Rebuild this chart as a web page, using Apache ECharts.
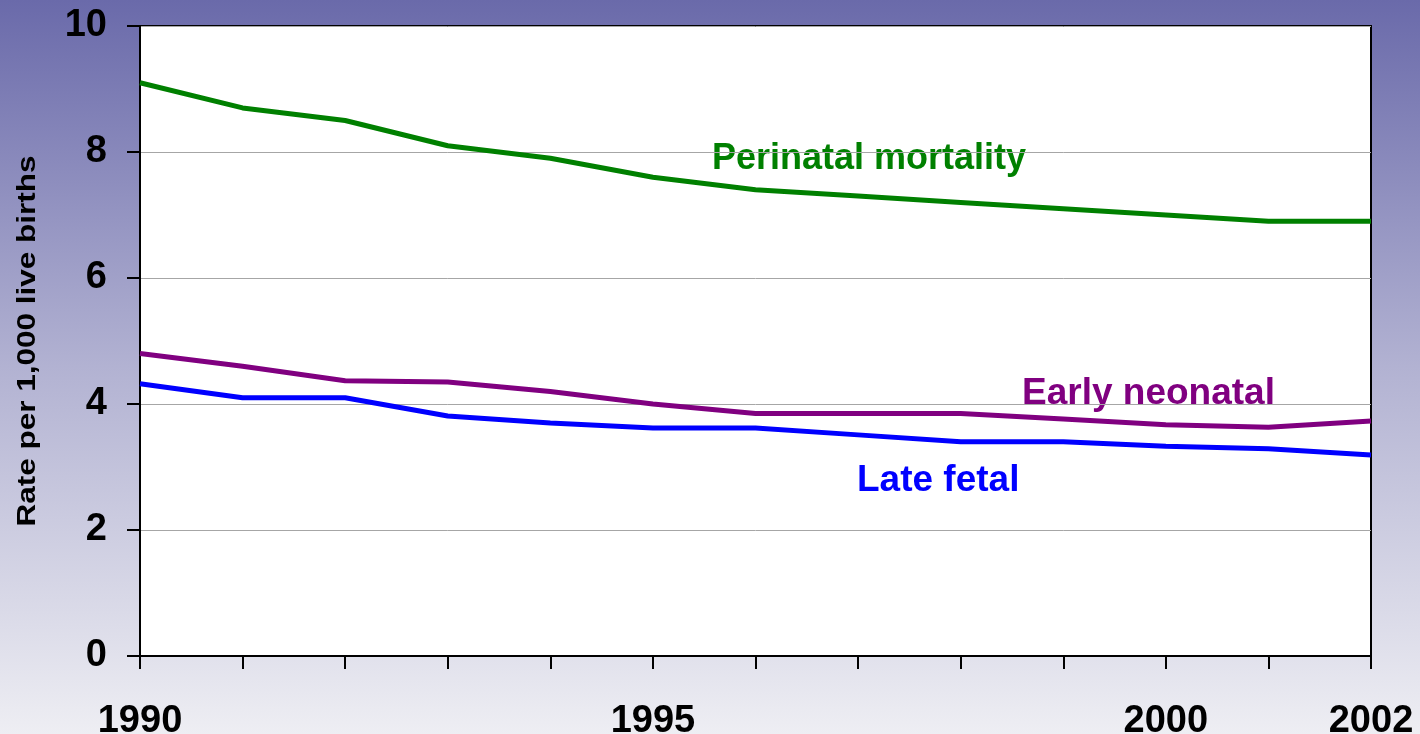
<!DOCTYPE html>
<html>
<head>
<meta charset="utf-8">
<style>
  html, body { margin: 0; padding: 0; }
  #chart { width: 1420px; height: 734px; background: linear-gradient(to bottom, #6a6aaa 0%, #b2b2d2 50%, #eeeef3 100%); }
</style>
<script src="https://cdn.jsdelivr.net/npm/echarts@6/dist/echarts.min.js"></script>
</head>
<body>
<div id="chart"></div>
<script>
const years = ['1990','1991','1992','1993','1994','1995','1996','1997','1998','1999','2000','2001','2002'];
const shownYears = ['1990','1995','2000','2002'];
const perinatal = [9.1, 8.7, 8.5, 8.1, 7.9, 7.6, 7.4, 7.3, 7.2, 7.1, 7.0, 6.9, 6.9];
const earlyNeonatal = [4.8, 4.6, 4.37, 4.35, 4.2, 4.0, 3.85, 3.85, 3.85, 3.76, 3.67, 3.63, 3.73];
const lateFetal = [4.32, 4.1, 4.1, 3.81, 3.7, 3.62, 3.62, 3.51, 3.4, 3.4, 3.33, 3.29, 3.19];
const yTicks = [0, 2, 4, 6, 8, 10];

const font = '"Liberation Sans", Arial, sans-serif';
const chart = echarts.init(document.getElementById('chart'));
chart.setOption({
  backgroundColor: 'transparent',
  animation: false,
  grid: { left: 140, right: 49, top: 26, bottom: 78, containLabel: false, outerBoundsMode: 'none',
          show: true, backgroundColor: '#ffffff', borderColor: '#000000', borderWidth: 2 },
  xAxis: {
    type: 'category',
    data: years,
    boundaryGap: false,
    axisLine: { lineStyle: { color: '#000', width: 2 } },
    axisTick: { show: true, interval: 0, length: 13, lineStyle: { color: '#000', width: 2 } },
    axisLabel: {
      interval: 0,
      formatter: v => shownYears.includes(v) ? v : '',
      fontFamily: font, fontWeight: 'bold', fontSize: 38, color: '#000', margin: 47
    },
    splitLine: { show: false }
  },
  yAxis: {
    type: 'value',
    min: yTicks[0], max: yTicks[yTicks.length - 1], interval: 2,
    axisLine: { show: true, lineStyle: { color: '#000', width: 2 } },
    axisTick: { show: true, length: 13, lineStyle: { color: '#000', width: 2 } },
    axisLabel: { fontFamily: font, fontWeight: 'bold', fontSize: 38, color: '#000', margin: 33 },
    splitLine: { show: true, lineStyle: { color: '#a6a6a6', width: 1 } }
  },
  series: [
    { name: 'Perinatal mortality', type: 'line', data: perinatal, symbol: 'none', lineStyle: { color: '#008000', width: 5 } },
    { name: 'Early neonatal', type: 'line', data: earlyNeonatal, symbol: 'none', lineStyle: { color: '#800080', width: 5 } },
    { name: 'Late fetal', type: 'line', data: lateFetal, symbol: 'none', lineStyle: { color: '#0000ff', width: 5 } }
  ],
  graphic: [
    { type: 'text', left: 712, top: 141, style: { text: 'Perinatal mortality', fontFamily: font, fontWeight: 'bold', fontSize: 36, fill: '#008000' } },
    { type: 'text', left: 1022, top: 375, style: { text: 'Early neonatal', fontFamily: font, fontWeight: 'bold', fontSize: 37, fill: '#800080' } },
    { type: 'text', left: 857, top: 462, style: { text: 'Late fetal', fontFamily: font, fontWeight: 'bold', fontSize: 37, fill: '#0000ff' } },
    { type: 'text', x: 28, y: 341, rotation: Math.PI / 2, scaleX: 1.26,
      style: { text: 'Rate per 1,000 live births', fontFamily: font, fontWeight: 'bold', fontSize: 25, fill: '#000', align: 'center', verticalAlign: 'middle' } }
  ]
});
</script>
</body>
</html>
